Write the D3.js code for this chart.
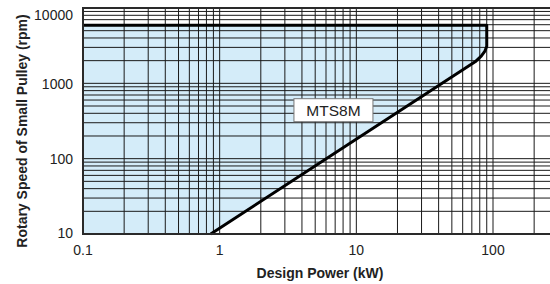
<!DOCTYPE html>
<html>
<head>
<meta charset="utf-8">
<script src="https://cdn.jsdelivr.net/npm/d3@7"></script>
<style>
  body { margin: 0; background: #fff; }
  svg { display: block; font-family: "Liberation Sans", Arial, sans-serif; }
</style>
</head>
<body>
<div id="chart"></div>
<script>
// chart values
const xTicks = [0.1, 1, 10, 100];
const xTickLabels = ["0.1", "1", "10", "100"];
const yTicks = [10, 100, 1000, 10000];
const yTickLabels = ["10", "100", "1000", "10000"];
const xGrid = [0.2,0.3,0.4,0.5,0.6,0.7,0.8,0.9,1,2,3,4,5,6,7,8,9,10,20,30,40,50,60,70,80,90,100,200,300];
const yGrid = [20,30,40,50,60,70,80,90,100,200,300,400,500,600,700,800,900,1000,2000,3000,4000,5000,6000,7000,8000,9000];

// MTS8M limit curve
const curvePower = [0.86, 74, 82, 87, 90, 90, 0.1];
const curveRpm   = [10, 1930, 2300, 2650, 3100, 5900, 5900];
const seriesName = "MTS8M";
const labelAt = {power: 6.8, rpm: 440};

const width = 550, height = 284;
const margin = {top: 8, left: 83, bottom: 50};

let x = d3.scaleLog().domain([0.1, 100]).range([margin.left, 493]);
let y = d3.scaleLog().domain([10, 10000]).range([height - margin.bottom, margin.top]);

let svg = d3.select("#chart").append("svg")
    .attr("width", width)
    .attr("height", height);

let pts = curvePower.map((p, i) => [p, curveRpm[i]]);

// shaded operating area
let areaPts = [[0.1, 10]].concat(pts);
svg.append("path")
    .attr("d", d3.line().x(d => x(d[0])).y(d => y(d[1]))(areaPts) + "Z")
    .attr("fill", "#d4ecf9");

// grid
let grid = svg.append("g").attr("stroke", "#1a1a1a").attr("stroke-width", 1);
grid.selectAll("line.v").data(xGrid).enter().append("line")
    .attr("class", "v")
    .attr("x1", d => x(d)).attr("x2", d => x(d))
    .attr("y1", y(10000)).attr("y2", y(10));
grid.selectAll("line.h").data(yGrid).enter().append("line")
    .attr("class", "h")
    .attr("x1", x(0.1)).attr("x2", width)
    .attr("y1", d => y(d)).attr("y2", d => y(d));

// curve
svg.append("path")
    .attr("d", d3.line().x(d => x(d[0])).y(d => y(d[1]))(pts))
    .attr("fill", "none")
    .attr("stroke", "#000")
    .attr("stroke-width", 3)
    .attr("stroke-linejoin", "round");

// frame: left, top, bottom
let frame = svg.append("g").attr("stroke", "#2a2a2a").attr("stroke-width", 2);
frame.append("line").attr("x1", x(0.1)).attr("x2", x(0.1)).attr("y1", y(10000) - 1).attr("y2", y(10) + 1);
frame.append("line").attr("x1", x(0.1)).attr("x2", width).attr("y1", y(10000)).attr("y2", y(10000));
frame.append("line").attr("x1", x(0.1)).attr("x2", width).attr("y1", y(10)).attr("y2", y(10));

// tick labels
svg.append("g").selectAll("text").data(xTicks).enter().append("text")
    .attr("x", d => x(d))
    .attr("y", 255)
    .attr("text-anchor", "middle")
    .style("font-size", "14px")
    .attr("fill", "#222")
    .text((d, i) => xTickLabels[i]);

svg.append("g").selectAll("text").data(yTicks).enter().append("text")
    .attr("x", 73)
    .attr("y", d => Math.min(Math.max(y(d) + 5.5, 19.5), 237.5))
    .attr("text-anchor", "end")
    .style("font-size", "14px")
    .attr("fill", "#222")
    .text((d, i) => yTickLabels[i]);

// axis titles
svg.append("text")
    .attr("x", 320)
    .attr("y", 278)
    .attr("text-anchor", "middle")
    .style("font-size", "14px")
    .style("font-weight", "bold")
    .attr("fill", "#222")
    .text("Design Power (kW)");

svg.append("text")
    .attr("transform", `translate(27, 131) rotate(-90)`)
    .attr("text-anchor", "middle")
    .style("font-size", "14px")
    .style("font-weight", "bold")
    .attr("fill", "#222")
    .text("Rotary Speed of Small Pulley (rpm)");

// series label box
let lx = x(labelAt.power), ly = y(labelAt.rpm);
svg.append("rect")
    .attr("x", lx - 39.5).attr("y", ly - 11.5)
    .attr("width", 79).attr("height", 23)
    .attr("fill", "#fff")
    .attr("stroke", "#777")
    .attr("stroke-width", 1);
svg.append("text")
    .attr("x", lx)
    .attr("y", ly + 6)
    .attr("text-anchor", "middle")
    .style("font-size", "15.5px")
    .attr("fill", "#222")
    .text(seriesName);
</script>
</body>
</html>
